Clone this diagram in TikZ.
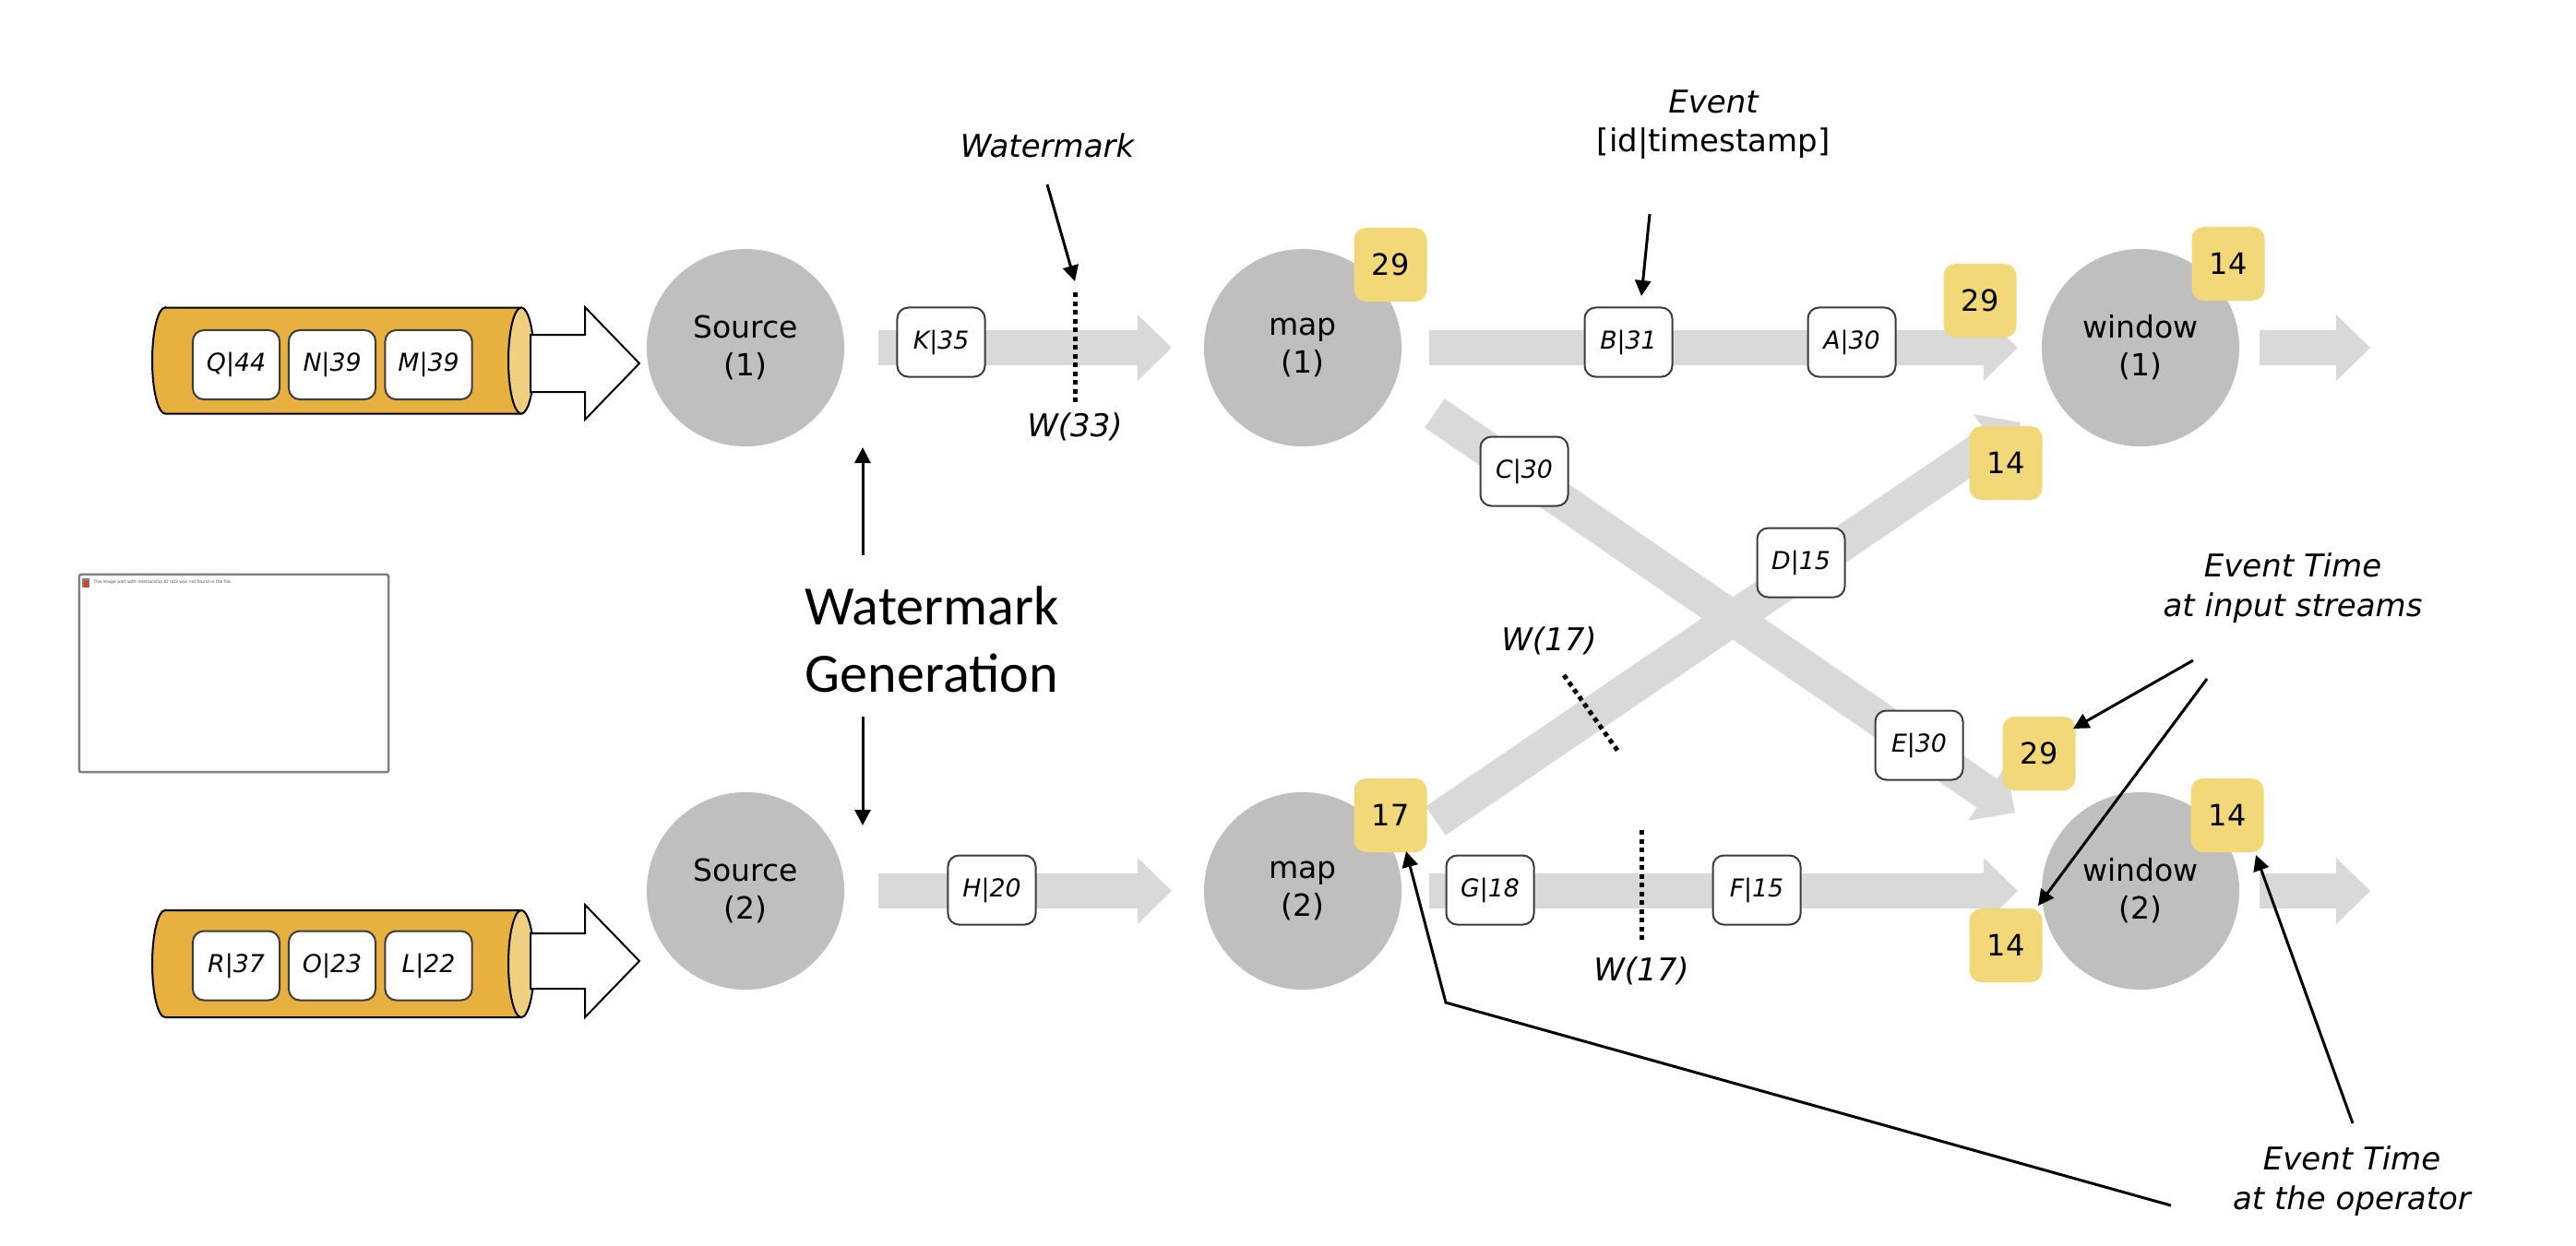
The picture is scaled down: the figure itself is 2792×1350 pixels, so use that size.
\documentclass[tikz,border=0pt]{standalone}
\usepackage{fontspec}
\setmainfont{DejaVu Sans}
\newfontfamily\calibfont{Carlito}
\usetikzlibrary{arrows.meta}
\definecolor{opgray}{HTML}{BFBFBF}
\definecolor{flowgray}{HTML}{D9D9D9}
\definecolor{tsyellow}{HTML}{F2D878}
\definecolor{qorange}{HTML}{E8B13F}
\definecolor{qlight}{HTML}{F0D080}
\definecolor{boxline}{HTML}{3C3C3C}
\definecolor{phline}{HTML}{7F7F7F}
\definecolor{phred}{HTML}{E03C1E}
\tikzset{
 opnode/.style={circle, fill=opgray, minimum size=2.14cm, inner sep=0pt, outer sep=0pt, align=center, font=\fontsize{9.4}{11.7}\selectfont},
 evbox/.style={draw=boxline, line width=0.02cm, fill=white, rounded corners=0.12cm, minimum width=0.95cm, minimum height=0.75cm, inner sep=0pt, font=\fontsize{7.6}{9}\selectfont\itshape},
 qbox/.style={evbox, minimum width=0.94cm},
 tsbox/.style={fill=tsyellow, rounded corners=0.13cm, minimum width=0.79cm, minimum height=0.80cm, inner sep=0pt, font=\fontsize{9.1}{11}\selectfont},
 flow/.style={draw=flowgray, line width=0.38cm, -{Triangle[length=0.37cm,width=0.72cm,line width=0pt]}},
 note/.style={draw=black, line width=0.03cm, -{Triangle[length=0.17cm,width=0.17cm]}},
 wmline/.style={draw=black, line width=0.05cm, dash pattern=on 0.05cm off 0.045cm},
 lbl/.style={font=\fontsize{9.67}{12.2}\selectfont\itshape, align=center, inner sep=0pt},
 qarrow/.style={draw=black, line width=0.02cm, fill=white, line join=miter},
 cyl/.style={draw=black, line width=0.02cm, fill=qorange},
 cylend/.style={draw=black, line width=0.02cm, fill=qlight},
}
\begin{document}
\begin{tikzpicture}[x=0.01cm, y=-0.01cm]
\useasboundingbox (0,0) rectangle (2792,1350);

% ---------- queues ----------
\draw[cyl] (179,333.5) -- (565,333.5) -- (565,448.5) -- (179,448.5)
   arc[start angle=270, end angle=90, x radius=0.14cm, y radius=0.575cm] -- cycle;
\draw[cylend] (565,391) ellipse[x radius=0.14cm, y radius=0.575cm];
\draw[qarrow] (575,363) -- (634,363) -- (634,333) -- (693,394) -- (634,455) -- (634,425) -- (575,425) -- cycle;
\node[qbox] (q44) at (256,395.5) {Q|44};
\node[qbox] (n39) at (360,395.5) {N|39};
\node[qbox] (m39) at (464.5,395.5) {M|39};

\draw[cyl] (179,987) -- (565,987) -- (565,1103) -- (179,1103)
   arc[start angle=270, end angle=90, x radius=0.14cm, y radius=0.58cm] -- cycle;
\draw[cylend] (565,1045) ellipse[x radius=0.14cm, y radius=0.58cm];
\draw[qarrow] (575,1012) -- (634,1012) -- (634,981) -- (693,1042) -- (634,1103) -- (634,1072) -- (575,1072) -- cycle;
\node[qbox] (r37) at (256,1047) {R|37};
\node[qbox] (o23) at (360,1047) {O|23};
\node[qbox] (l22) at (464.5,1047) {L|22};

% ---------- placeholder ----------
\node[draw=phline, line width=0.025cm, rounded corners=0.02cm, minimum width=3.35cm, minimum height=2.14cm, inner sep=0pt] (ph) at (253.5,730) {};
\fill[phline] (89,627) rectangle (97,637);
\fill[phred] (90.5,630) rectangle (96,636.5);
\node[anchor=west, font=\fontsize{1.3}{1.5}\selectfont, text=black!70, inner sep=0pt] (phtxt) at (101,631) {The image part with relationship ID rId3 was not found in the file.};

% ---------- operators ----------
\node[opnode] (s1) at (808,377) {Source\\(1)};
\node[opnode] (s2) at (808,966) {Source\\(2)};
\node[opnode] (m1) at (1412,377) {map\\(1)};
\node[opnode] (m2) at (1412,966) {map\\(2)};
\node[opnode] (w1) at (2320,377) {window\\(1)};
\node[opnode] (w2) at (2320,966) {window\\(2)};

% ---------- streams ----------
\coordinate (w1out) at (2569,377);
\coordinate (w2out) at (2569,966);
\coordinate (d1s) at (1555,448);
\coordinate (d1e) at (2184,881);
\coordinate (d2s) at (1556,890);
\coordinate (d2e) at (2190,458);
\draw[flow, shorten <=0.37cm, shorten >=0.35cm] (s1) -- (m1);
\draw[flow, shorten <=0.30cm, shorten >=0.26cm] (m1) -- (w1);
\draw[flow, shorten <=0.22cm] (w1) -- (w1out);
\draw[flow, shorten <=0.37cm, shorten >=0.35cm] (s2) -- (m2);
\draw[flow, shorten <=0.30cm, shorten >=0.26cm] (m2) -- (w2);
\draw[flow, shorten <=0.22cm] (w2) -- (w2out);
\draw[flow] (d1s) -- (d1e);
\draw[flow] (d2s) -- (d2e);

% ---------- events ----------
\node[evbox] (k35) at (1020,371) {K|35};
\node[evbox] (b31) at (1765,371) {B|31};
\node[evbox] (a30) at (2007,371) {A|30};
\node[evbox] (c30) at (1652,511) {C|30};
\node[evbox] (d15) at (1952,610) {D|15};
\node[evbox] (e30) at (2080,808) {E|30};
\node[evbox] (h20) at (1075,965) {H|20};
\node[evbox] (g18) at (1615,965) {G|18};
\node[evbox] (f15) at (1904,965) {F|15};

% ---------- event time boxes ----------
\node[tsbox] (y29a) at (1507,287) {29};
\node[tsbox] (y29b) at (2146,326) {29};
\node[tsbox] (y14a) at (2415,286) {14};
\node[tsbox] (y14b) at (2174,502) {14};
\node[tsbox] (y29c) at (2210,817) {29};
\node[tsbox] (y14c) at (2414,884) {14};
\node[tsbox] (y14d) at (2174,1025) {14};
\node[tsbox] (y17) at (1507,884) {17};

% ---------- watermarks ----------
\coordinate (wm1t) at (1165,317); \coordinate (wm1b) at (1165,437);
\draw[wmline] (wm1t) -- (wm1b);
\node[lbl] (w33) at (1165,463) {W(33)};
\coordinate (wm2t) at (1779,900); \coordinate (wm2b) at (1779,1020);
\draw[wmline] (wm2t) -- (wm2b);
\node[lbl] (w17a) at (1779,1053) {W(17)};
\coordinate (wm3t) at (1695,732); \coordinate (wm3b) at (1754,815);
\draw[wmline] (wm3t) -- (wm3b);
\node[lbl] (w17b) at (1679,695) {W(17)};

% ---------- annotations ----------
\node[lbl] (wmlbl) at (1135,158) {Watermark};
\coordinate (wma) at (1135,200); \coordinate (wmb) at (1165,305);
\draw[note] (wma) -- (wmb);

\node[lbl] (evlbl) at (1857,110) {Event};
\node[font=\fontsize{9.67}{12}\selectfont, inner sep=0pt] (evsub) at (1857,155) {[id|timestamp]};
\coordinate (eva) at (1788,232); \coordinate (evb) at (1779,321);
\draw[note] (eva) -- (evb);

\node[font=\calibfont\fontsize{17.1}{20.8}\selectfont, align=center, inner sep=0pt] (wmgen) at (1010,693) {Watermark\\Generation};
\coordinate (wg1a) at (935,602); \coordinate (wg1b) at (935,485);
\coordinate (wg2a) at (935,777); \coordinate (wg2b) at (935,895);
\draw[note] (wg1a) -- (wg1b);
\draw[note] (wg2a) -- (wg2b);

\node[lbl] (etin) at (2485,638) {Event Time\\at input streams};
\coordinate (ein1) at (2377,716); \coordinate (ein1t) at (2247,790);
\coordinate (ein2) at (2392,736); \coordinate (ein2t) at (2209,982);
\draw[note] (ein1) -- (ein1t);
\draw[note] (ein2) -- (ein2t);

\node[lbl] (etop) at (2549,1281) {Event Time\\at the operator};
\coordinate (eop1) at (2353,1307); \coordinate (eop1k) at (1567,1087); \coordinate (eop1t) at (1524,923);
\coordinate (eop2) at (2550,1218); \coordinate (eop2t) at (2445,927);
\draw[note] (eop1) -- (eop1k) -- (eop1t);
\draw[note] (eop2) -- (eop2t);
\end{tikzpicture}
\end{document}
